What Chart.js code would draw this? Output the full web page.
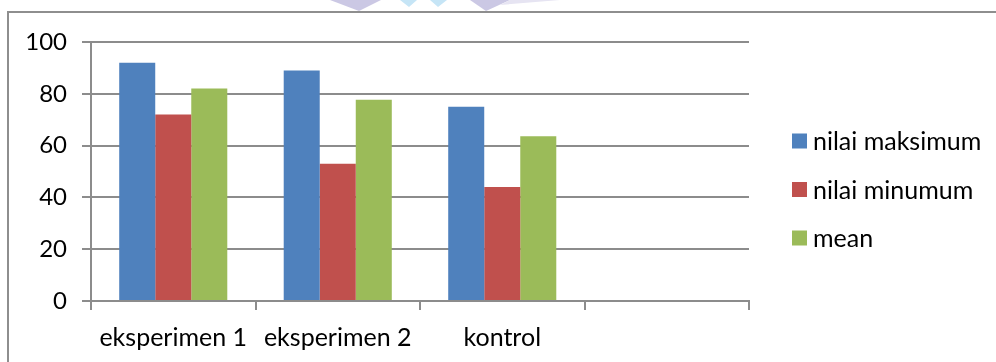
<!DOCTYPE html>
<html>
<head>
<meta charset="utf-8">
<script src="https://cdn.jsdelivr.net/npm/chart.js@4/dist/chart.umd.min.js"></script>
<style>
  html, body { margin: 0; padding: 0; background: #fff; overflow: hidden; }
  #wrap { position: relative; width: 996px; height: 362px; overflow: hidden; }
  #frame { position: absolute; left: 7px; top: 11px; width: 1100px; height: 500px;
           border: 2px solid #8e8e8e; box-sizing: border-box; pointer-events: none; }
  #deco { position: absolute; left: 0; top: 0; }
  canvas { position: absolute; left: 0; top: 0; }
</style>
</head>
<body>
<div id="wrap">
  <svg id="deco" width="996" height="14">
    <polygon points="330,0 359,11 381,0" fill="#cbc8e4"/>
    <polygon points="400,0 409,7 417,0" fill="#c6e5f6"/>
    <polygon points="430,0 438,7 447,0" fill="#c6e5f6"/>
    <polygon points="470,0 486,11 510,0" fill="#cbc8e4"/>
    <polygon points="510,0 560,0 500,5" fill="#e6e4f2"/>
  </svg>
  <canvas id="c" width="996" height="362"></canvas>
  <div id="frame"></div>
</div>
<script>
// Groups on the x axis (the fourth slot is left empty)
const categories = ['eksperimen 1', 'eksperimen 2', 'kontrol', ''];

// Series values
const nilaiMaksimum = [92, 89, 75, null];
const nilaiMinumum = [72, 53, 44, null];
const meanValues = [82, 77.7, 63.6, null];

// Y axis range and step
const yMin = 0;
const yMax = 100;
const yStep = 20;

const seriesNames = ['nilai maksimum', 'nilai minumum', 'mean'];
const seriesColors = ['#4F81BD', '#C0504D', '#9BBB59'];

const FONT = 'Lato, "Open Sans", sans-serif';
const GRID = '#8c8c8c';

// Legend column to the right of the plot: one square swatch and label per dataset
const sideLegend = {
  id: 'sideLegend',
  afterDraw(chart) {
    const c = chart.ctx;
    const x = chart.chartArea.right + 43;
    const midY = 189.5;
    const rowGap = 48.5;
    const sets = chart.data.datasets;
    c.save();
    c.font = '25px ' + FONT;
    c.textBaseline = 'middle';
    c.textAlign = 'left';
    sets.forEach((ds, i) => {
      const cy = midY + (i - (sets.length - 1) / 2) * rowGap;
      c.fillStyle = ds.backgroundColor;
      c.fillRect(x, cy - 7.5, 15, 15);
      c.fillStyle = '#000';
      c.fillText(ds.label, x + 21, cy + 1);
    });
    c.restore();
  }
};

const ctx = document.getElementById('c').getContext('2d');
new Chart(ctx, {
  type: 'bar',
  data: {
    labels: categories,
    datasets: [nilaiMaksimum, nilaiMinumum, meanValues].map((vals, i) => ({
      label: seriesNames[i],
      data: vals,
      backgroundColor: seriesColors[i],
      borderWidth: 0,
      barPercentage: 1.0,
      categoryPercentage: 0.657
    }))
  },
  plugins: [sideLegend],
  options: {
    responsive: false,
    animation: false,
    devicePixelRatio: 1,
    layout: { padding: { top: 42, right: 247, bottom: 0, left: 0 } },
    plugins: {
      tooltip: { enabled: false },
      legend: { display: false }
    },
    scales: {
      x: {
        offset: true,
        grid: {
          display: true,
          drawOnChartArea: false,
          drawTicks: true,
          tickLength: 9,
          color: GRID,
          lineWidth: 2,
          offset: true
        },
        border: { display: true, color: GRID, width: 2 },
        ticks: { color: '#000', padding: 13, font: { family: FONT, size: 25 }, maxRotation: 0 },
        afterFit: (s) => { s.height = 362 - 301; }
      },
      y: {
        position: 'left',
        min: yMin,
        max: yMax,
        ticks: { stepSize: yStep, color: '#000', padding: 15, font: { family: FONT, size: 24 } },
        grid: { color: GRID, lineWidth: 2, tickLength: 9, drawTicks: true },
        border: { display: true, color: GRID, width: 2 },
        afterFit: (s) => { s.width = 91; }
      }
    }
  }
});
</script>
</body>
</html>
